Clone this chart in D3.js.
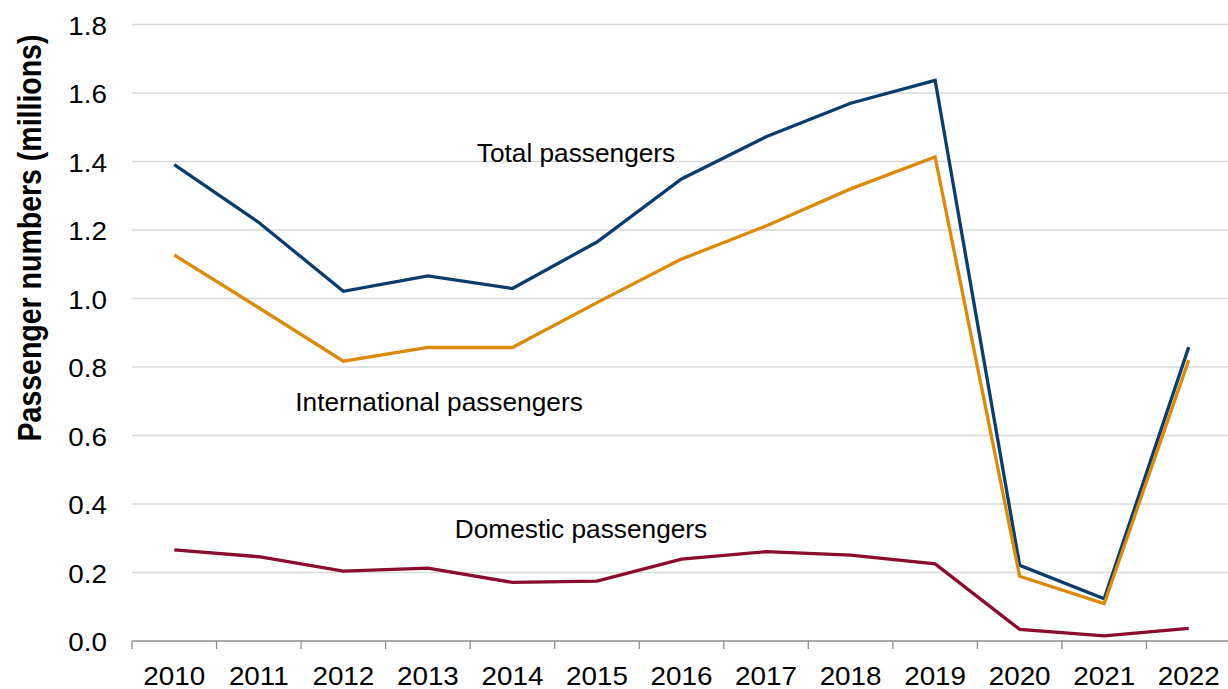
<!DOCTYPE html>
<html>
<head>
<meta charset="utf-8">
<script src="https://cdn.jsdelivr.net/npm/d3@7"></script>
<style>
  html, body { margin: 0; padding: 0; background: #fff; }
  svg { display: block; }
  text { font-family: "Liberation Sans", Arial, sans-serif; fill: #000; }
</style>
</head>
<body>
<svg id="chart" width="1228" height="689"></svg>
<script>
// Passenger numbers by year, in millions
const years = [2010, 2011, 2012, 2013, 2014, 2015, 2016, 2017, 2018, 2019, 2020, 2021, 2022];
const totalPassengers = [1.391, 1.222, 1.021, 1.066, 1.029, 1.165, 1.349, 1.472, 1.570, 1.637, 0.221, 0.123, 0.858];
const internationalPassengers = [1.127, 0.973, 0.817, 0.857, 0.857, 0.988, 1.115, 1.212, 1.320, 1.413, 0.189, 0.109, 0.820];
const domesticPassengers = [0.266, 0.246, 0.204, 0.213, 0.171, 0.175, 0.239, 0.261, 0.251, 0.225, 0.034, 0.015, 0.037];
const yTicks = [0, 0.2, 0.4, 0.6, 0.8, 1.0, 1.2, 1.4, 1.6, 1.8];

const series = [
  { name: "Total passengers", values: totalPassengers, color: "#0a3d6b", label: { x: 576, y: 162 } },
  { name: "International passengers", values: internationalPassengers, color: "#dc8a0b", label: { x: 439, y: 411 } },
  { name: "Domestic passengers", values: domesticPassengers, color: "#8b0c2c", label: { x: 581, y: 538 } }
];

const svg = d3.select("#chart");
const plot = { left: 132, right: 1231, top: 24.5, bottom: 641 };

const x = d3.scaleBand().domain(years).range([plot.left, plot.right]).padding(0);
const y = d3.scaleLinear().domain([0, 1.8]).range([plot.bottom, plot.top]);
const cx = d => x(d) + x.bandwidth() / 2;

// horizontal gridlines
svg.append("g")
  .selectAll("line")
  .data(yTicks.slice(1))
  .join("line")
  .attr("x1", plot.left).attr("x2", 1228)
  .attr("y1", d => y(d)).attr("y2", d => y(d))
  .attr("stroke", "#d9d9d9").attr("stroke-width", 1.3);

// y axis labels
const yAxis = d3.axisLeft(y).tickValues(yTicks).tickFormat(d3.format(".1f")).tickSize(0).tickPadding(0);
const yg = svg.append("g").attr("transform", `translate(${plot.left},0)`).call(yAxis);
yg.select(".domain").remove();
yg.selectAll("text")
  .attr("x", 0).attr("dy", "0.36em")
  .attr("transform", "translate(-25,0) scale(1.05,1)")
  .style("font-size", "26.5px").style("font-family", "'Liberation Sans', Arial, sans-serif").attr("fill", "#000");

// x axis: baseline, category boundary ticks, year labels
const xg = svg.append("g");
xg.append("line")
  .attr("x1", plot.left).attr("x2", 1228)
  .attr("y1", plot.bottom).attr("y2", plot.bottom)
  .attr("stroke", "#8c8c8c").attr("stroke-width", 1.3);
xg.selectAll("line.tick")
  .data(years)
  .join("line")
  .attr("class", "tick")
  .attr("x1", d => x(d)).attr("x2", d => x(d))
  .attr("y1", plot.bottom).attr("y2", plot.bottom + 8)
  .attr("stroke", "#8c8c8c").attr("stroke-width", 1.3);
xg.selectAll("text")
  .data(years)
  .join("text")
  .attr("transform", d => `translate(${cx(d)},684.5) scale(1.05,1)`)
  .attr("text-anchor", "middle")
  .style("font-size", "26.5px")
  .text(d => d);

// y axis title
svg.append("text")
  .attr("transform", "translate(41,238) rotate(-90) scale(1,1.15)")
  .attr("text-anchor", "middle")
  .style("font-size", "28.5px")
  .style("font-weight", "bold")
  .text("Passenger numbers (millions)");

// series lines
const line = d3.line()
  .x((d, i) => cx(years[i]))
  .y(d => y(d));

svg.append("g")
  .selectAll("path")
  .data(series)
  .join("path")
  .attr("d", s => line(s.values))
  .attr("fill", "none")
  .attr("stroke", s => s.color)
  .attr("stroke-width", 3.3)
  .attr("stroke-linejoin", "miter");

// series labels
svg.append("g")
  .selectAll("text")
  .data(series)
  .join("text")
  .attr("transform", s => `translate(${s.label.x},${s.label.y}) scale(1.03,1)`)
  .attr("text-anchor", "middle")
  .style("font-size", "25.5px")
  .text(s => s.name);
</script>
</body>
</html>
